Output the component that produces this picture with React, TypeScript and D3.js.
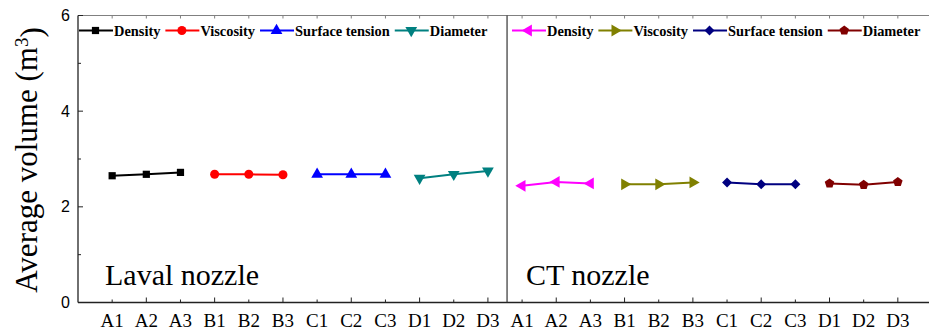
import React, { useEffect, useRef } from 'react';
import * as d3 from 'd3';

// x categories (the same set is repeated for each nozzle)
const groups = ['A1', 'A2', 'A3', 'B1', 'B2', 'B3', 'C1', 'C2', 'C3', 'D1', 'D2', 'D3'];
const nozzles = ['Laval nozzle', 'CT nozzle'];
const seriesNames = ['Density', 'Viscosity', 'Surface tension', 'Diameter'];

// average volume values
const lavalValues = [
  [2.65, 2.68, 2.72],
  [2.68, 2.68, 2.67],
  [2.68, 2.68, 2.68],
  [2.60, 2.68, 2.75],
];
const ctValues = [
  [2.44, 2.52, 2.49],
  [2.47, 2.47, 2.51],
  [2.51, 2.47, 2.47],
  [2.49, 2.46, 2.52],
];

const lavalColors = ['#000000', '#ff0000', '#0000ff', '#008080'];
const ctColors = ['#ff00ff', '#808000', '#000080', '#800000'];
const lavalMarkers = ['square', 'circle', 'triUp', 'triDown'];
const ctMarkers = ['triLeft', 'triRight', 'diamond', 'pentagon'];

const yTicks = [0, 2, 4, 6];
const yMinorTicks = [1, 3, 5];

const serif = "'Liberation Serif', Tinos, 'Times New Roman', Times, 'DejaVu Serif', serif";
const sans = "'Liberation Sans', Arimo, Arial, sans-serif";

function markerPath(kind: string): string {
  if (kind === 'square') return d3.symbol(d3.symbolSquare, 52)()!;
  if (kind === 'circle') return d3.symbol(d3.symbolCircle, 64)()!;
  if (kind === 'diamond') return d3.symbol(d3.symbolSquare, 50)()!;
  if (kind === 'pentagon') {
    const r = 5;
    const pts = d3.range(5).map(i => {
      const a = -Math.PI / 2 + (i * 2 * Math.PI) / 5;
      return [r * Math.cos(a), r * Math.sin(a)];
    });
    return 'M' + pts.map(p => p.join(',')).join('L') + 'Z';
  }
  return d3.symbol(d3.symbolTriangle, 60)()!;
}

function markerRotate(kind: string): number {
  if (kind === 'triDown') return 180;
  if (kind === 'triLeft') return -90;
  if (kind === 'triRight') return 90;
  if (kind === 'diamond') return 45;
  return 0;
}

function App() {
  const ref = useRef<SVGSVGElement>(null);

  useEffect(() => {
    const width = 929;
    const left = 78;
    const top = 15.5;
    const bottom = 302.5;

    const svg = d3.select(ref.current);
    svg.selectAll('*').remove();

    const categories = nozzles.flatMap(() => groups);
    const x = d3.scaleLinear().domain([-1, categories.length]).range([left, 932]);
    const y = d3.scaleLinear().domain([0, 6]).range([bottom, top]);

    // frame
    svg.append('line')
      .attr('x1', left).attr('x2', width).attr('y1', top).attr('y2', top)
      .attr('stroke', '#808080').attr('stroke-width', 1.2);
    svg.append('line')
      .attr('x1', left).attr('x2', width).attr('y1', bottom).attr('y2', bottom)
      .attr('stroke', '#222').attr('stroke-width', 1.3);
    svg.append('line')
      .attr('x1', left).attr('x2', left).attr('y1', top).attr('y2', bottom)
      .attr('stroke', '#222').attr('stroke-width', 1.3);
    // divider between the two nozzles
    svg.append('line')
      .attr('x1', x(groups.length - 0.44)).attr('x2', x(groups.length - 0.44))
      .attr('y1', top).attr('y2', bottom)
      .attr('stroke', '#333').attr('stroke-width', 1.2);

    // x ticks and labels
    categories.forEach((c, i) => {
      const major = i % 2 === 1;
      svg.append('line')
        .attr('x1', x(i)).attr('x2', x(i))
        .attr('y1', bottom).attr('y2', bottom - (major ? 5 : 3))
        .attr('stroke', '#222').attr('stroke-width', 1);
      svg.append('line')
        .attr('x1', x(i)).attr('x2', x(i))
        .attr('y1', top).attr('y2', top + 3)
        .attr('stroke', '#808080').attr('stroke-width', 1);
      svg.append('text')
        .attr('x', x(i)).attr('y', 326.5)
        .attr('text-anchor', 'middle')
        .attr('font-family', serif)
        .attr('font-size', 19)
        .text(c);
    });

    // y ticks
    yTicks.forEach(t => {
      svg.append('line')
        .attr('x1', left).attr('x2', left + 5).attr('y1', y(t)).attr('y2', y(t))
        .attr('stroke', '#222').attr('stroke-width', 1);
      svg.append('text')
        .attr('x', 70).attr('y', y(t))
        .attr('text-anchor', 'end').attr('dominant-baseline', 'central')
        .attr('font-family', sans)
        .attr('font-size', 16)
        .text(t);
    });
    yMinorTicks.forEach(t => {
      svg.append('line')
        .attr('x1', left).attr('x2', left + 3).attr('y1', y(t)).attr('y2', y(t))
        .attr('stroke', '#222').attr('stroke-width', 1);
    });

    // y axis title
    const yl = svg.append('text')
      .attr('transform', 'translate(37,160) rotate(-90)')
      .attr('text-anchor', 'middle')
      .attr('font-family', serif)
      .attr('font-size', 31);
    yl.append('tspan').text('Average volume (m');
    yl.append('tspan').attr('dy', '-0.45em').attr('font-size', 19).text('3');
    yl.append('tspan').attr('dy', '0.45em').text(')');

    const panels = [
      { values: lavalValues, colors: lavalColors, markers: lavalMarkers, legendX: 79, labelX: 105 },
      { values: ctValues, colors: ctColors, markers: ctMarkers, legendX: 512, labelX: 526 },
    ];

    panels.forEach((p, pi) => {
      const offset = pi * groups.length;
      p.values.forEach((vals, si) => {
        const start = offset + si * 3;
        const lineGen = d3.line<number>()
          .x((_, i) => x(start + i))
          .y(d => y(d));
        svg.append('path')
          .datum(vals)
          .attr('d', lineGen)
          .attr('fill', 'none')
          .attr('stroke', p.colors[si])
          .attr('stroke-width', 2);
        svg.selectAll(null)
          .data(vals)
          .enter()
          .append('path')
          .attr('d', markerPath(p.markers[si]))
          .attr('transform', (d, i) => `translate(${x(start + i)},${y(d)}) rotate(${markerRotate(p.markers[si])})`)
          .attr('fill', p.colors[si]);
      });

      // legend
      let lx = p.legendX;
      seriesNames.forEach((name, si) => {
        svg.append('line')
          .attr('x1', lx).attr('x2', lx + 34).attr('y1', 30.5).attr('y2', 30.5)
          .attr('stroke', p.colors[si]).attr('stroke-width', 2);
        svg.append('path')
          .attr('d', markerPath(p.markers[si]))
          .attr('transform', `translate(${lx + 16.5},30.5) rotate(${markerRotate(p.markers[si])})`)
          .attr('fill', p.colors[si]);
        const t = svg.append('text')
          .attr('x', lx + 35).attr('y', 35.5)
          .attr('font-family', serif)
          .attr('font-weight', 'bold')
          .attr('font-size', 14.4)
          .text(name);
        const w = (t.node() as SVGTextElement).getComputedTextLength();
        lx = lx + 35 + w + 5;
      });

      // nozzle label
      svg.append('text')
        .attr('x', p.labelX).attr('y', 285)
        .attr('font-family', serif)
        .attr('font-size', 30)
        .text(nozzles[pi]);
    });
  }, []);

  return (
    <svg
      ref={ref}
      width={929}
      height={336}
      style={{ position: 'absolute', left: 0, top: 0, background: 'white' }}
    />
  );
}

export default App;
